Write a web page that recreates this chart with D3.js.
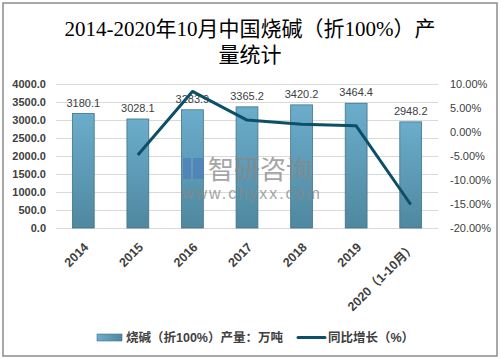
<!DOCTYPE html>
<html>
<head>
<meta charset="UTF-8">
<title>Chart</title>
<style>
  body { margin: 0; background: #fff; }
  svg { display: block; }
</style>
</head>
<body>
<div id="chart"></div>
<script src="https://cdn.jsdelivr.net/npm/d3@7"></script>
<script>
// data
const years = ["2014", "2015", "2016", "2017", "2018", "2019", "2020（1-10月）"];
const output = [3180.1, 3028.1, 3283.9, 3365.2, 3420.2, 3464.4, 2948.2];
const growth = [null, -4.78, 8.45, 2.48, 1.63, 1.29, -15.1];
const leftTicks = [0, 500, 1000, 1500, 2000, 2500, 3000, 3500, 4000];
const rightTicks = [-20, -15, -10, -5, 0, 5, 10];

const W = 501, H = 359;
const plot = { left: 56, right: 438, top: 84, bottom: 228 };
const txt = "#404040";
const font = "'Liberation Sans', 'Noto Sans CJK SC', sans-serif";

const svg = d3.select("#chart").append("svg")
    .attr("width", W).attr("height", H)
    .style("font-family", font);

// outer frame
svg.append("rect")
    .attr("x", 3).attr("y", 3).attr("width", W - 7).attr("height", H - 6)
    .attr("fill", "#fff").attr("stroke", "#8c8c8c").attr("stroke-width", 1.5);

// title
const title = svg.append("text")
    .attr("text-anchor", "middle")
    .attr("fill", "#000")
    .style("font-family", "'Liberation Serif', 'Noto Sans CJK SC', serif")
    .style("font-size", "21px");
title.append("tspan").attr("x", 250).attr("y", 36).text("2014-2020年10月中国烧碱（折100%）产");
title.append("tspan").attr("x", 250).attr("y", 62).text("量统计");

// scales
const x = d3.scaleBand().domain(years).range([plot.left, plot.right]).paddingInner(0.6).paddingOuter(0.3);
const yL = d3.scaleLinear().domain([0, 4000]).range([plot.bottom, plot.top]);
const yR = d3.scaleLinear().domain([-20, 10]).range([plot.bottom, plot.top]);

// gridlines
svg.append("g").selectAll("line")
    .data(leftTicks)
    .join("line")
    .attr("x1", plot.left).attr("x2", plot.right)
    .attr("y1", d => yL(d) + 0.5).attr("y2", d => yL(d) + 0.5)
    .attr("stroke", "#d9d9d9").attr("stroke-width", 1);

// left axis
const axL = svg.append("g")
    .attr("transform", `translate(${plot.left},0)`)
    .call(d3.axisLeft(yL).tickValues(leftTicks).tickFormat(d3.format(".1f")).tickSize(0).tickPadding(10));
axL.select(".domain").remove();
axL.selectAll("text").attr("fill", txt).style("font-size", "11px").style("font-weight", "bold").style("font-family", font);

// right axis
const axR = svg.append("g")
    .attr("transform", `translate(${plot.right},0)`)
    .call(d3.axisRight(yR).tickValues(rightTicks).tickFormat(d => d.toFixed(2) + "%").tickSize(0).tickPadding(12));
axR.select(".domain").remove();
axR.selectAll("text").attr("fill", txt).style("font-size", "11px").style("font-family", font);

// bar gradient
const defs = svg.append("defs");
const grad = defs.append("linearGradient").attr("id", "barGrad").attr("x1", 0).attr("y1", 0).attr("x2", 0).attr("y2", 1);
grad.append("stop").attr("offset", "0%").attr("stop-color", "#6badcc");
grad.append("stop").attr("offset", "100%").attr("stop-color", "#4f889f");
const legGrad = defs.append("linearGradient").attr("id", "legGrad").attr("x1", 0).attr("y1", 0).attr("x2", 1).attr("y2", 0);
legGrad.append("stop").attr("offset", "0%").attr("stop-color", "#6badcc");
legGrad.append("stop").attr("offset", "100%").attr("stop-color", "#4f889f");

// bars
svg.append("g").selectAll("rect")
    .data(output)
    .join("rect")
    .attr("x", (d, i) => x(years[i]))
    .attr("y", d => yL(d))
    .attr("width", x.bandwidth())
    .attr("height", d => yL(0) - yL(d))
    .attr("fill", "url(#barGrad)")
    .attr("stroke", "#3f7388").attr("stroke-width", 0.8);

// value labels
svg.append("g").selectAll("text")
    .data(output)
    .join("text")
    .attr("x", (d, i) => x(years[i]) + x.bandwidth() / 2)
    .attr("y", d => yL(d) - 7)
    .attr("text-anchor", "middle")
    .attr("fill", txt)
    .style("font-size", "11px")
    .text(d => d.toFixed(1));

// watermark
const wm = svg.append("g").attr("opacity", 0.75);
wm.append("rect").attr("x", 183).attr("y", 158).attr("width", 8).attr("height", 21).attr("fill", "#4f7fb8");
wm.append("rect").attr("x", 193).attr("y", 158).attr("width", 11).attr("height", 21).attr("fill", "#4f7fb8");
wm.append("text").attr("x", 208).attr("y", 179)
    .attr("fill", "#888").style("font-size", "26px").style("font-family", "'Noto Sans CJK SC', sans-serif")
    .text("智研咨询");
wm.append("text").attr("x", 182).attr("y", 199)
    .attr("fill", "#888").style("font-size", "16px").style("letter-spacing", "2px")
    .text("www.chyxx.com");

// growth line
const line = d3.line()
    .defined(d => d !== null)
    .x((d, i) => x(years[i]) + x.bandwidth() / 2)
    .y(d => yR(d));
svg.append("path")
    .datum(growth)
    .attr("fill", "none")
    .attr("stroke", "#0b5068")
    .attr("stroke-width", 3)
    .attr("stroke-linejoin", "round")
    .attr("d", line);

// x labels
svg.append("g").selectAll("text")
    .data(years)
    .join("text")
    .attr("transform", d => `translate(${x(d) + x.bandwidth() / 2 + 6},${plot.bottom + 20}) rotate(-45)`)
    .attr("text-anchor", "end")
    .attr("fill", txt)
    .style("font-size", "12.5px")
    .style("font-weight", "bold")
    .text(d => d);

// legend
const leg = svg.append("g").style("font-size", "12.5px").attr("fill", txt);
leg.append("rect").attr("x", 97).attr("y", 334).attr("width", 25).attr("height", 7)
    .attr("fill", "url(#legGrad)").attr("stroke", "#3f7388").attr("stroke-width", 0.6);
leg.append("text").attr("x", 126).attr("y", 342).style("font-weight", "bold").text("烧碱（折100%）产量：万吨");
leg.append("line").attr("x1", 298).attr("x2", 325).attr("y1", 337.5).attr("y2", 337.5)
    .attr("stroke", "#0b5068").attr("stroke-width", 3).attr("stroke-linecap", "round");
leg.append("text").attr("x", 328).attr("y", 342).style("font-weight", "bold").text("同比增长（%）");
</script>
</body>
</html>
